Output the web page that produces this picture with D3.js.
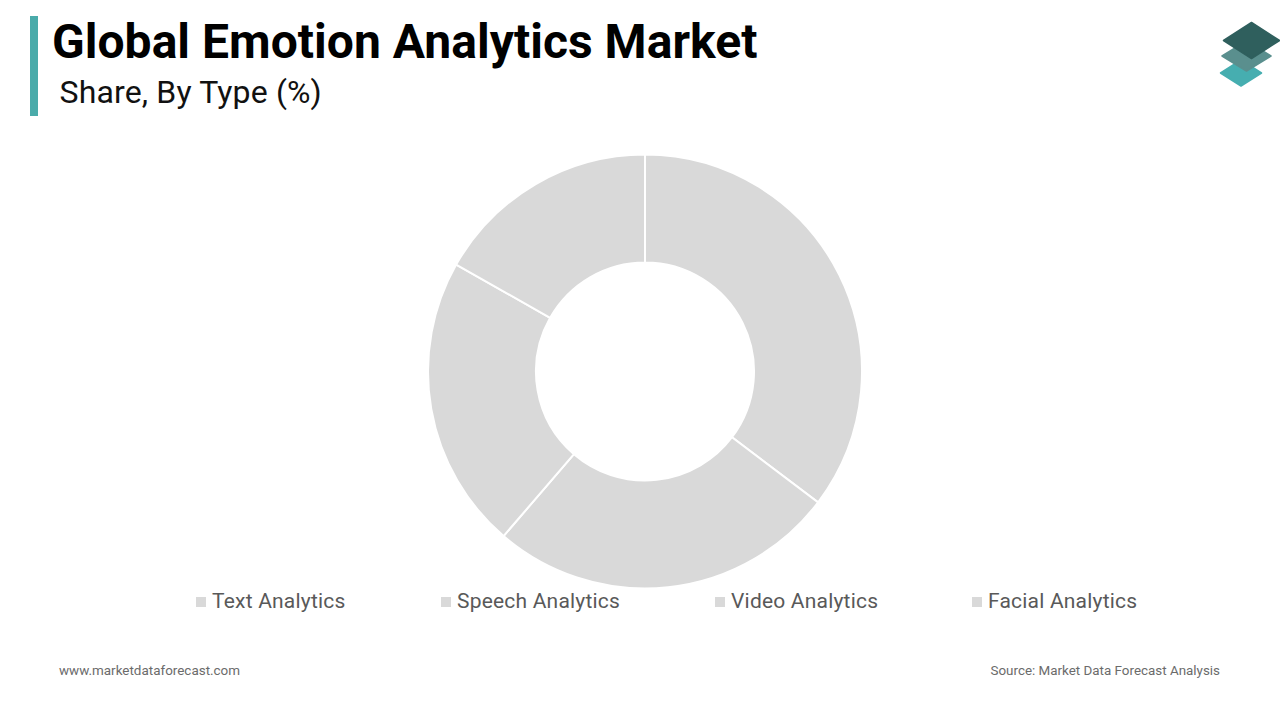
<!DOCTYPE html>
<html>
<head>
<meta charset="utf-8">
<title>Global Emotion Analytics Market</title>
<script src="https://cdn.jsdelivr.net/npm/d3@7"></script>
<style>
  html, body { margin: 0; padding: 0; background: #fff; }
  svg { display: block; }
  text { font-family: Roboto, sans-serif; }
</style>
</head>
<body>
<svg id="chart" width="1280" height="720"></svg>
<script>
const categories = ["Text Analytics", "Speech Analytics", "Video Analytics", "Facial Analytics"];
const shares = [35.3, 26, 21.9, 16.8];

const svg = d3.select("#chart");

// header
svg.append("rect").attr("x", 30).attr("y", 16).attr("width", 8).attr("height", 100).attr("fill", "#4aabaa");
svg.append("text").attr("x", 52).attr("y", 58)
  .attr("font-size", 48).attr("font-weight", 700).attr("letter-spacing", 0.03).attr("fill", "#000")
  .text("Global Emotion Analytics Market");
svg.append("text").attr("x", 59.5).attr("y", 103)
  .attr("font-size", 32).attr("letter-spacing", 0.15).attr("fill", "#111")
  .text("Share, By Type (%)");

// logo, bottom layer first
const logo = svg.append("g");
const layers = [
  {cx: 1241, cy: 73, w: 20.5, h: 13, fill: "#46aeb0"},
  {cx: 1246.5, cy: 56, w: 24.5, h: 15, fill: "#5a8f8e"},
  {cx: 1251.5, cy: 40.5, w: 28, h: 18, fill: "#2f5f5d"}
];
logo.selectAll("path").data(layers).join("path")
  .attr("d", d => `M${d.cx},${d.cy - d.h}L${d.cx + d.w},${d.cy}L${d.cx},${d.cy + d.h}L${d.cx - d.w},${d.cy}Z`)
  .attr("fill", d => d.fill)
  .attr("stroke", d => d.fill)
  .attr("stroke-width", 1.5)
  .attr("stroke-linejoin", "round");

// donut
const pie = d3.pie().sort(null)(shares);
const arc = d3.arc().innerRadius(109).outerRadius(217);

svg.append("g")
  .attr("transform", "translate(645,371.5)")
  .selectAll("path").data(pie).join("path")
  .attr("d", arc)
  .attr("fill", "#d9d9d9")
  .attr("stroke", "#fff")
  .attr("stroke-width", 2);

// legend
const legendX = d3.scaleOrdinal().domain(categories).range([196, 441, 715, 972]);
const legend = svg.append("g").selectAll("g").data(categories).join("g")
  .attr("transform", d => `translate(${legendX(d)},0)`);
legend.append("rect")
  .attr("y", 597).attr("width", 10).attr("height", 10)
  .attr("fill", "#d9d9d9");
legend.append("text")
  .attr("x", 16).attr("y", 608)
  .attr("font-size", 21).attr("letter-spacing", 0.2).attr("fill", "#595959")
  .text(d => d);

// footer
svg.append("text").attr("x", 59).attr("y", 675)
  .attr("font-size", 13.45).attr("fill", "#6b6b6b")
  .text("www.marketdataforecast.com");
svg.append("text").attr("x", 1220).attr("y", 675).attr("text-anchor", "end")
  .attr("font-size", 13.4).attr("fill", "#6b6b6b")
  .text("Source: Market Data Forecast Analysis");
</script>
</body>
</html>
